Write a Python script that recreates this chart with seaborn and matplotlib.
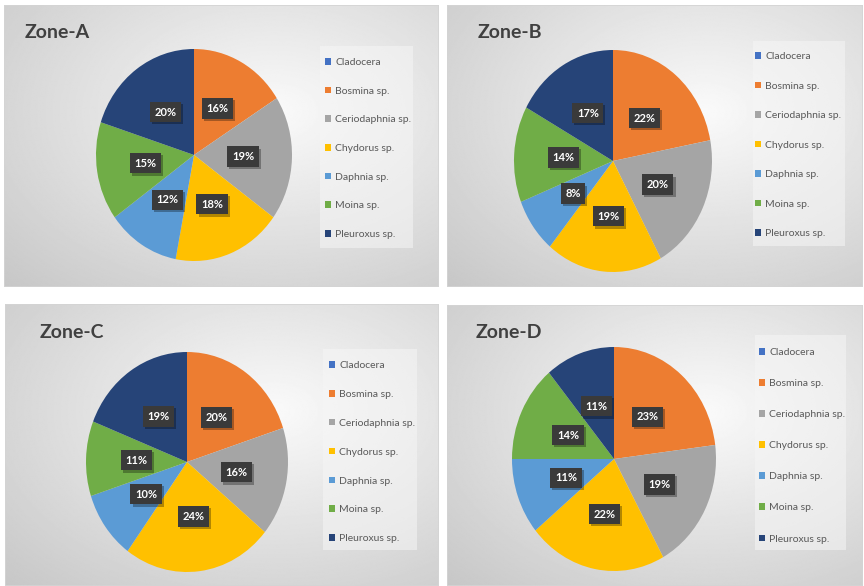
import numpy as np
import matplotlib
matplotlib.use("Agg")
import matplotlib.pyplot as plt
import matplotlib.patheffects as pe
from matplotlib.patches import Rectangle, Patch
import seaborn as sns

# Zooplankton composition (%) per sampling zone
categories = ["Cladocera", "Bosmina sp.", "Ceriodaphnia sp.", "Chydorus sp.",
              "Daphnia sp.", "Moina sp.", "Pleuroxus sp."]
zones = ["Zone-A", "Zone-B", "Zone-C", "Zone-D"]
zone_a = [0, 16, 19, 18, 12, 15, 20]
zone_b = [0, 22, 20, 19, 8, 14, 17]
zone_c = [0, 20, 16, 24, 10, 11, 19]
zone_d = [0, 23, 19, 22, 11, 14, 11]
zone_values = [zone_a, zone_b, zone_c, zone_d]
colors = ["#4472C4", "#ED7D31", "#A5A5A5", "#FFC000", "#5B9BD5", "#70AD47", "#264478"]

W, H = 864, 586
sns.set_theme(style="white")
plt.rcParams["font.family"] = ["Lato", "DejaVu Sans"]
palette = sns.color_palette(colors)

fig = plt.figure(figsize=(W / 100, H / 100), dpi=100)
fig.patch.set_facecolor("white")


def px_axes(x, y, w, h, z=0):
    """Axes placed in pixel coordinates measured from the top-left corner."""
    return fig.add_axes([x / W, 1 - (y + h) / H, w / W, h / H], zorder=z)


# panel box, title anchor, pie centre/radii, legend box, legend anchor, row spacing
layout = [
    dict(panel=(4, 5, 435, 282), title=(25, 33), pie=(194, 155, 98, 106),
         box=(320, 46, 93, 202), leg=(325, 58), sp=1.89),
    dict(panel=(447, 5, 416, 282), title=(478, 32), pie=(613, 161, 99, 111),
         box=(753, 41, 92, 205), leg=(755, 52), sp=1.97),
    dict(panel=(5, 304, 434, 282), title=(40, 333), pie=(187, 462, 101, 110),
         box=(323, 349, 94, 201), leg=(329, 361), sp=1.91),
    dict(panel=(447, 305, 416, 281), title=(476, 333), pie=(614, 459, 102, 112),
         box=(755, 335, 91, 215), leg=(759, 348), sp=2.12),
]

# soft radial backdrop shared by all panels
gy, gx = np.mgrid[0:1:240j, 0:1:360j]
dist = np.sqrt(((gx - 0.62) / 0.7) ** 2 + ((gy - 0.38) / 0.7) ** 2)
backdrop = np.clip(0.98 - 0.16 * dist, 0, 1)

handles = [Patch(facecolor=palette[i], edgecolor="none") for i in range(len(categories))]

for zone, vals, lay in zip(zones, zone_values, layout):
    x, y, w, h = lay["panel"]
    bg = px_axes(x, y, w, h, z=0)
    bg.imshow(backdrop, cmap="gray", vmin=0, vmax=1, extent=(0, 1, 0, 1),
              aspect="auto", interpolation="bilinear")
    bg.set_xlim(0, 1)
    bg.set_ylim(0, 1)
    bg.axis("off")
    bg.add_patch(Rectangle((0, 0), 1, 1, transform=bg.transAxes, fill=False,
                           edgecolor="#d4d4d4", linewidth=1.2))
    # legend backing box
    bx, by, bw, bh = lay["box"]
    bg.add_patch(Rectangle(((bx - x) / w, 1 - (by - y + bh) / h), bw / w, bh / h,
                           transform=bg.transAxes, facecolor="#f6f6f6",
                           edgecolor="none", alpha=0.55))
    tx, ty = lay["title"]
    fig.text(tx / W, 1 - ty / H, zone, fontsize=14, fontweight="bold",
             color="#404040", ha="left", va="center")

    # pie, clockwise from 12 o'clock, zero shares omitted
    cx, cy, rx, ry = lay["pie"]
    ax = px_axes(cx - rx, cy - ry, 2 * rx, 2 * ry, z=2)
    idx = [i for i, v in enumerate(vals) if v > 0]
    wedges, texts = ax.pie([vals[i] for i in idx],
                           colors=[palette[i] for i in idx],
                           labels=[f"{vals[i]}%" for i in idx],
                           labeldistance=0.5, startangle=90, counterclock=False,
                           wedgeprops=dict(linewidth=0),
                           textprops=dict(color="white", fontsize=8,
                                          fontweight="bold"))
    for t in texts:
        t.set_ha("center")
        t.set_va("center")
        t.set_bbox(dict(boxstyle="square,pad=0.42", facecolor="#3a3a3a",
                        edgecolor="none"))
        t.get_bbox_patch().set_path_effects(
            [pe.SimplePatchShadow(offset=(1.5, -1.5), shadow_rgbFace="black",
                                  alpha=0.3), pe.Normal()])
    ax.set_aspect("auto")
    ax.set_xlim(-1, 1)
    ax.set_ylim(-1, 1)
    ax.axis("off")

    lx, ly = lay["leg"]
    fig.legend(handles, categories, loc="upper left",
               bbox_to_anchor=(lx / W, 1 - ly / H), frameon=False,
               fontsize=7.5, handlelength=0.6, handleheight=0.6,
               handletextpad=0.4, labelspacing=lay["sp"], borderpad=0,
               borderaxespad=0, labelcolor="#595959")

fig.savefig("out.png", dpi=100, facecolor="white")
